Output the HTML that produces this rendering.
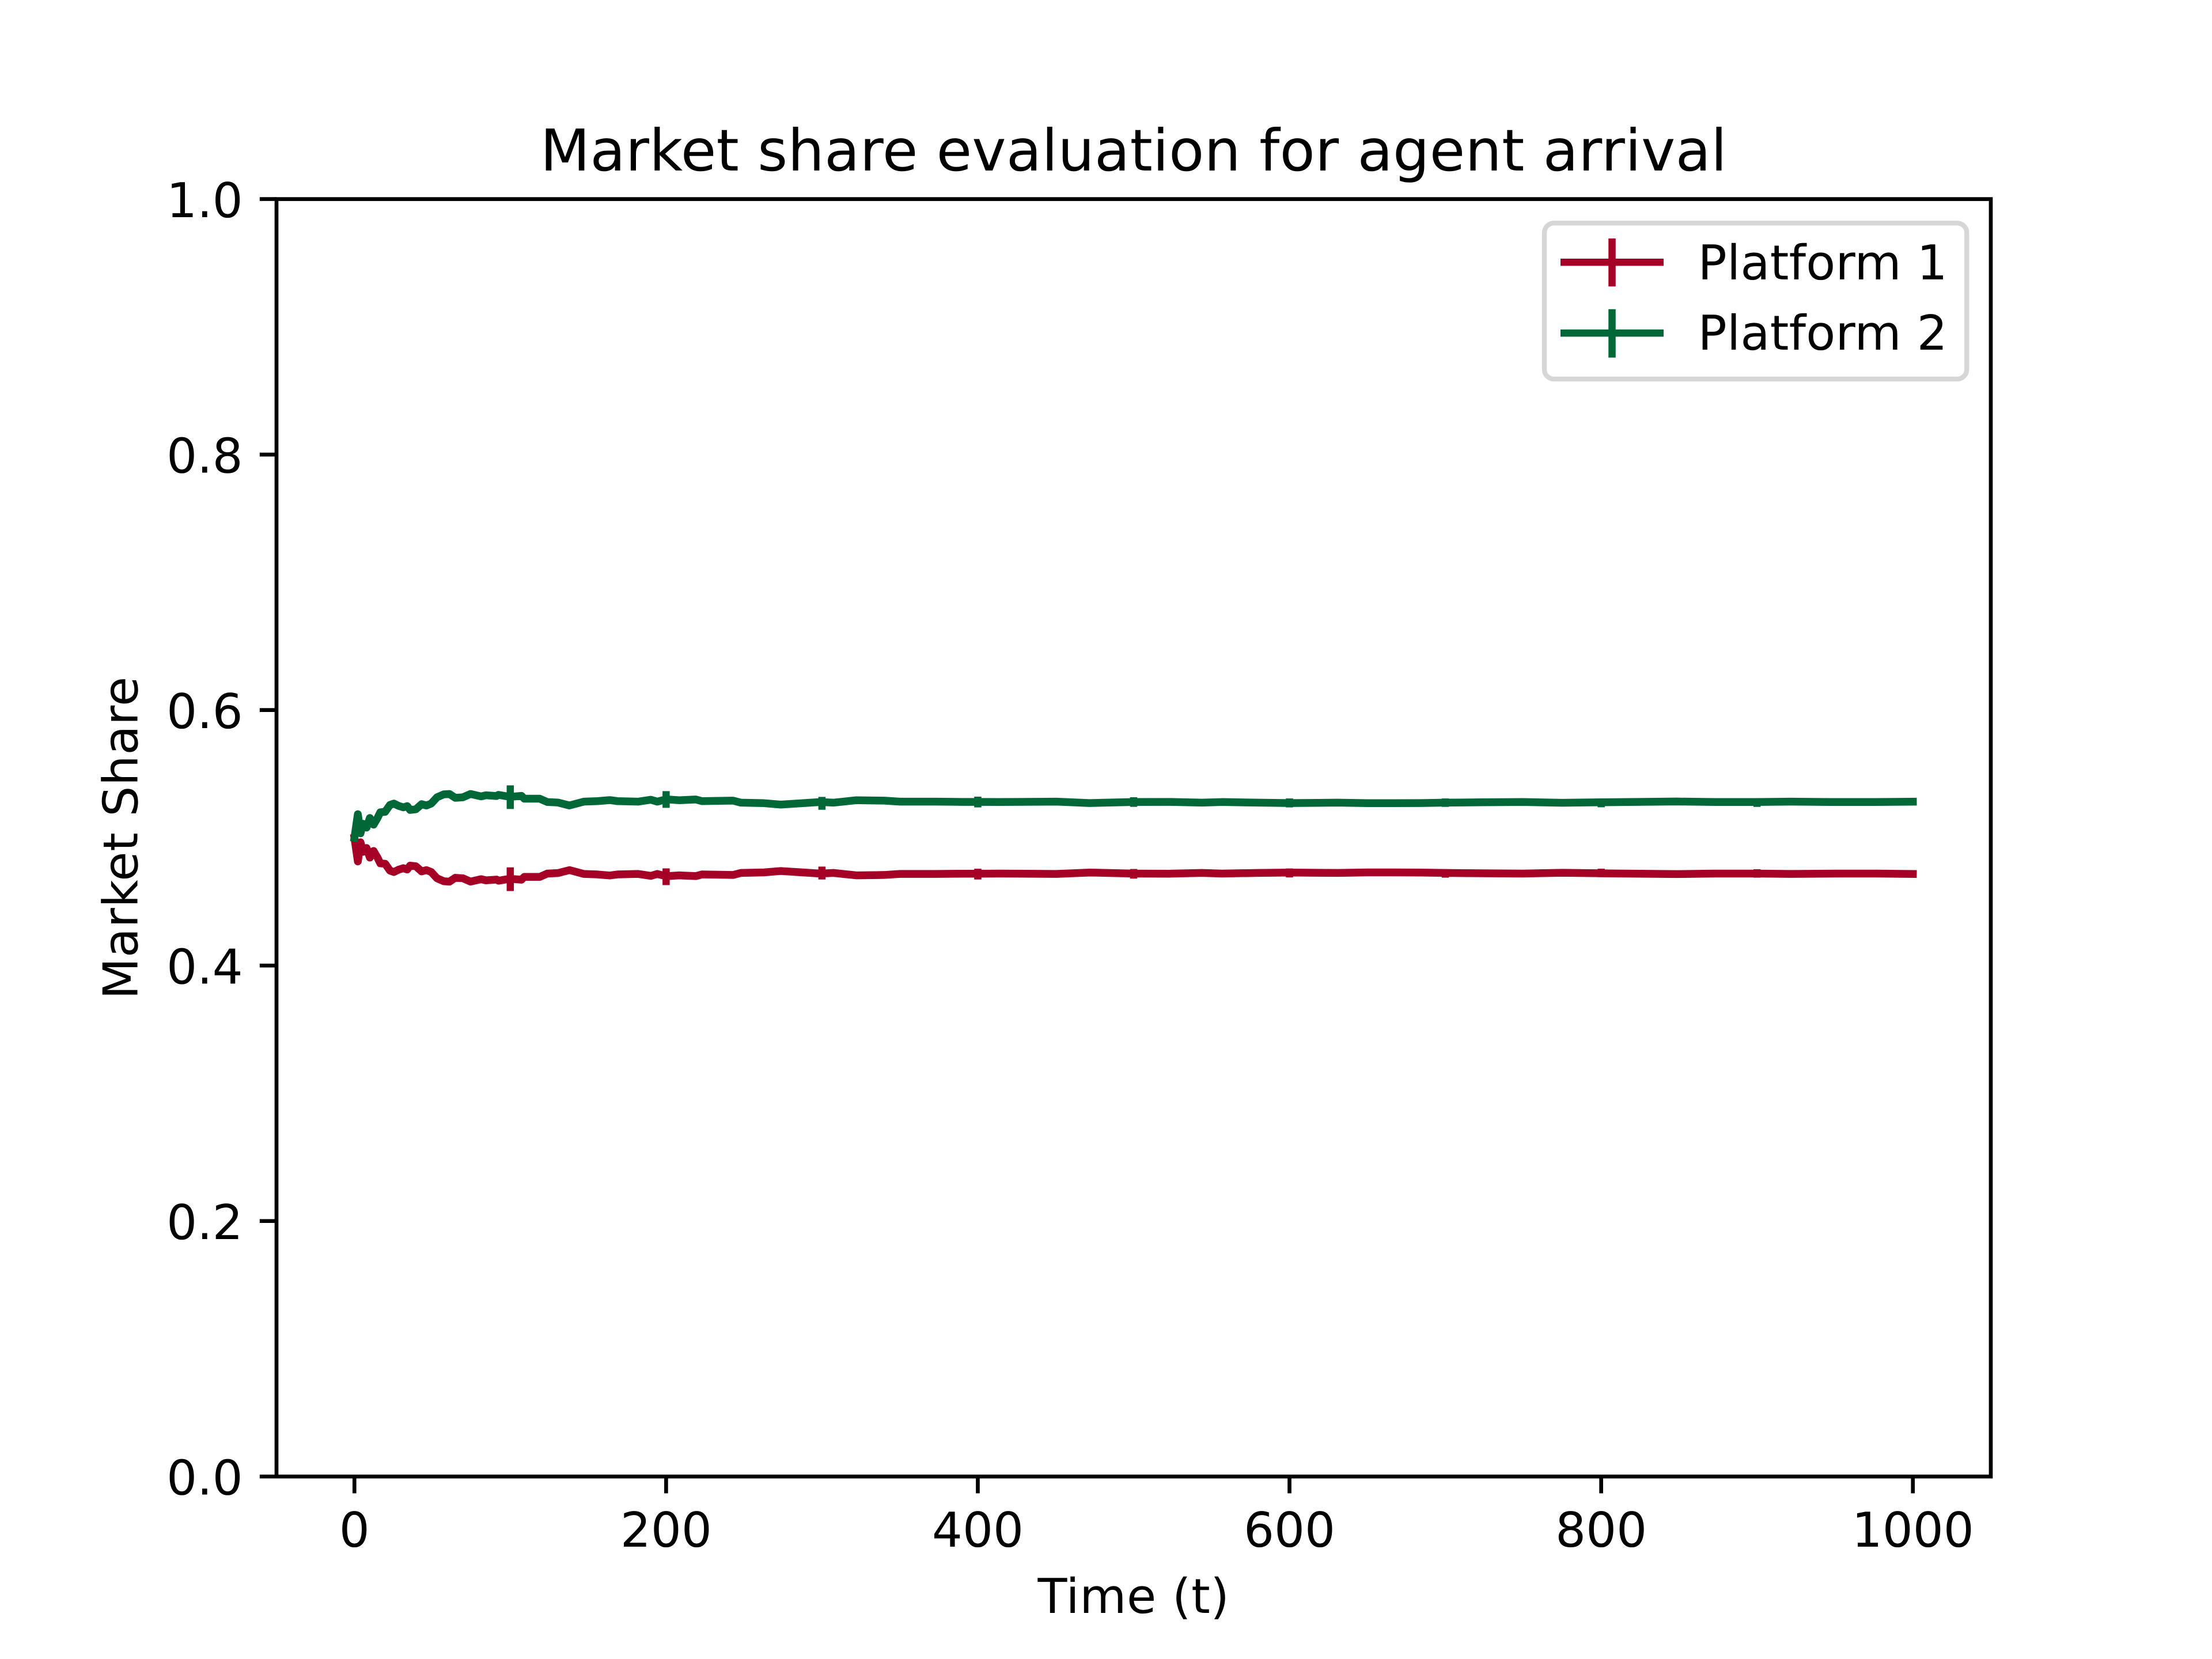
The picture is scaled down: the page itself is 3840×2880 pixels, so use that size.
<!DOCTYPE html>
<html lang="en">
<head>
<meta charset="utf-8">
<title>Market share evaluation for agent arrival</title>
<style>
html,body{margin:0;padding:0;background:#fff;width:3840px;height:2880px;overflow:hidden}
svg{display:block}
text{font-family:"DejaVu Sans","Liberation Sans",sans-serif;fill:#000;text-rendering:geometricPrecision}
</style>
</head>
<body>
<svg id="chart" xmlns="http://www.w3.org/2000/svg" width="3840" height="2880" viewBox="0 0 3840 2880">
  <rect x="0" y="0" width="3840" height="2880" fill="#fff"/>
  <text x="1968" y="296" font-size="100" letter-spacing="0.25" text-anchor="middle">Market share evaluation for agent arrival</text>
  <text x="1968" y="2800" font-size="83.33" letter-spacing="0.6" text-anchor="middle">Time (t)</text>
  <text transform="translate(238.5 1454.4) rotate(-90)" font-size="83.33" letter-spacing="0.6" text-anchor="middle">Market Share</text>
  <g id="marks"></g>
  <g id="ticks"></g>
  <rect x="480" y="345.6" width="2976" height="2217.6" fill="none" stroke="#000" stroke-width="6.67" stroke-linejoin="miter"/>
  <g>
    <rect x="2681" y="387.3" width="733.3" height="270.7" rx="16.67" ry="16.67" fill="#fff" stroke="#d6d6d6" stroke-width="8.33"/>
    <g>
      <line x1="2709" y1="455.3" x2="2888" y2="455.3" stroke="#a50026" stroke-width="12.5"/>
      <line x1="2798.5" y1="414" x2="2798.5" y2="497.3" stroke="#a50026" stroke-width="12.5"/>
      <text x="2947.5" y="485" font-size="83.33" letter-spacing="0.25">Platform 1</text>
    </g>
    <g>
      <line x1="2709" y1="578.3" x2="2888" y2="578.3" stroke="#006837" stroke-width="12.5"/>
      <line x1="2798.5" y1="536.7" x2="2798.5" y2="620.7" stroke="#006837" stroke-width="12.5"/>
      <text x="2947.5" y="607" font-size="83.33" letter-spacing="0.25">Platform 2</text>
    </g>
  </g>
</svg>
<script>
var timeSteps = [0,2.2,3.9,5.5,7.8,9.9,12.3,14.8,16.6,19.7,22.8,25.3,28.3,31.4,33.9,35.7,39.4,43.1,46.2,49.3,53,57.3,61,64.7,69.6,74.5,81.3,84.4,91.2,92.4,96.7,100,107.2,109,118.9,123.8,130.6,138,147.2,155.9,163.8,168.8,182,190.2,194.3,200,208.3,219,223,243,248,262.8,273.5,299,307.3,322,340,350,373,390,400,414.4,450.5,471.7,500,522.6,543.9,556.6,580,600.3,630.9,650,667,684,700,724,749.7,775,800,848.4,872.8,900,921.6,951.3,976.8,1000];
var platform1Share = [0.5,0.4815,0.4965,0.489,0.492,0.4845,0.4897,0.4845,0.48,0.4797,0.4743,0.4732,0.475,0.4762,0.4752,0.4782,0.4777,0.4737,0.4747,0.4732,0.4683,0.466,0.4657,0.4687,0.4683,0.4657,0.4676,0.4667,0.4673,0.4664,0.4673,0.4679,0.4672,0.4694,0.4694,0.472,0.4724,0.4747,0.4717,0.4713,0.4705,0.4713,0.4717,0.4702,0.4717,0.4699,0.4706,0.47,0.4713,0.4709,0.4725,0.4729,0.474,0.472,0.4725,0.4706,0.4709,0.4717,0.4717,0.4719,0.4719,0.472,0.4717,0.4728,0.472,0.4719,0.4725,0.472,0.4725,0.4728,0.4725,0.4729,0.4729,0.4728,0.4725,0.4722,0.472,0.4726,0.4722,0.4716,0.472,0.472,0.4717,0.472,0.472,0.4717];
var platform2Share = [0.5,0.5185,0.5035,0.511,0.508,0.5155,0.5103,0.5155,0.52,0.5203,0.5257,0.5268,0.525,0.5238,0.5248,0.5218,0.5223,0.5263,0.5253,0.5268,0.5317,0.534,0.5343,0.5313,0.5317,0.5343,0.5324,0.5333,0.5327,0.5336,0.5327,0.5321,0.5328,0.5306,0.5306,0.528,0.5276,0.5253,0.5283,0.5287,0.5295,0.5287,0.5283,0.5298,0.5283,0.5301,0.5294,0.53,0.5287,0.5291,0.5275,0.5271,0.526,0.528,0.5275,0.5294,0.5291,0.5283,0.5283,0.5281,0.5281,0.528,0.5283,0.5272,0.528,0.5281,0.5275,0.528,0.5275,0.5272,0.5275,0.5271,0.5271,0.5272,0.5275,0.5278,0.528,0.5274,0.5278,0.5284,0.528,0.528,0.5283,0.528,0.528,0.5283];
var errorTimes = [100,200,300,400,500,600,700,800,900];
var platform1ErrorCenter = [0.4676,0.4695,0.4724,0.4716,0.4718,0.4725,0.4721,0.4725,0.4721];
var platform2ErrorCenter = [0.5318,0.53,0.527,0.528,0.528,0.5273,0.5275,0.5272,0.5275];
var errorHalfWidth = [0.00925,0.00654,0.00505,0.0042,0.00376,0.0035,0.0033,0.0033,0.0033];
var xTickValues = [0,200,400,600,800,1000];
var xTickLabels = ["0","200","400","600","800","1000"];
var yTickValues = [0,0.2,0.4,0.6,0.8,1];
var yTickLabels = ["0.0","0.2","0.4","0.6","0.8","1.0"];

var SVG_NS = "http://www.w3.org/2000/svg";
var plotLeft = 480, plotWidth = 2976, plotBottom = 2563.2, plotHeight = 2217.6;
var xMin = -50, xMax = 1050, yMin = 0, yMax = 1;
function xScale(v) { return plotLeft + (v - xMin) / (xMax - xMin) * plotWidth; }
function yScale(v) { return plotBottom - (v - yMin) / (yMax - yMin) * plotHeight; }
function make(tag, attrs, parent) {
  var el = document.createElementNS(SVG_NS, tag);
  for (var k in attrs) el.setAttribute(k, attrs[k]);
  parent.appendChild(el);
  return el;
}
var marks = document.getElementById("marks");
var ticks = document.getElementById("ticks");

function drawSeries(values, centers, color, slug) {
  var pts = [];
  for (var i = 0; i < timeSteps.length; i++) {
    pts.push(xScale(timeSteps[i]).toFixed(2) + "," + yScale(values[i]).toFixed(2));
  }
  var line = make("polyline", {
    points: pts.join(" "), fill: "none", stroke: color, "stroke-width": 13.5,
    "stroke-linejoin": "round", "stroke-linecap": "square"
  }, marks);
  
  
  for (var j = 0; j < errorTimes.length; j++) {
    var bar = make("line", {
      x1: xScale(errorTimes[j]), x2: xScale(errorTimes[j]),
      y1: yScale(centers[j] - errorHalfWidth[j]), y2: yScale(centers[j] + errorHalfWidth[j]),
      stroke: color, "stroke-width": 12.5
    }, marks);
    
    
  }
}
drawSeries(platform1Share, platform1ErrorCenter, "#a50026", "platform-1");
drawSeries(platform2Share, platform2ErrorCenter, "#006837", "platform-2");

xTickValues.forEach(function (v, i) {
  var x = xScale(v);
  var mark = make("line", { x1: x, x2: x, y1: plotBottom, y2: plotBottom + 29.17, stroke: "#000", "stroke-width": 6.67 }, ticks);
  
  
  var label = make("text", { x: x, y: 2685, "font-size": 83.33, "text-anchor": "middle" }, ticks);
  label.textContent = xTickLabels[i];
  
  
});
yTickValues.forEach(function (v, i) {
  var y = yScale(v);
  var mark = make("line", { x1: plotLeft - 29.17, x2: plotLeft, y1: y, y2: y, stroke: "#000", "stroke-width": 6.67 }, ticks);
  
  
  var label = make("text", { x: 421.7, y: y + 31.2, "font-size": 83.33, "text-anchor": "end" }, ticks);
  label.textContent = yTickLabels[i];
  
  
});
</script>
</body>
</html>
